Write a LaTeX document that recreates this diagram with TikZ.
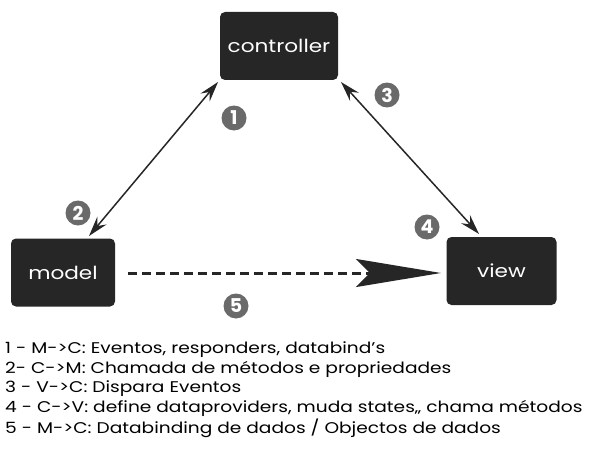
\documentclass[tikz,border=0pt]{standalone}
\usepackage{graphicx}
\usepackage{fontspec}
\setmainfont{Poppins}[Ligatures=NoCommon]
\usetikzlibrary{arrows.meta}
\definecolor{boxfill}{HTML}{262626}
\definecolor{badge}{HTML}{6A6A6A}
\newcommand{\widetext}[1]{\scalebox{1.2}[1]{#1}}
\newcommand{\apos}{{\char"0027}}
\begin{document}
\begin{tikzpicture}[x=1pt,y=-1pt,
  mvcbox/.style={draw=none,fill=boxfill,rounded corners=5pt,text=white,
    minimum width=110pt,minimum height=68pt,font=\fontsize{18}{18}\selectfont},
  badgenode/.style={circle,fill=badge,text=white,inner sep=0pt,minimum size=25pt,
    font=\fontsize{19}{19}\selectfont\bfseries},
  link/.style={line width=1.5pt,draw=boxfill,
    {Stealth[length=20pt,width=12pt,inset=7pt]}-{Stealth[length=20pt,width=12pt,inset=7pt]}},
  dataflow/.style={line width=3pt,draw=boxfill,dash pattern=on 9pt off 5pt,
    -{Stealth[length=85pt,width=28pt,inset=14pt]}},
  listline/.style={anchor=west,inner sep=0pt,font=\fontsize{15.5}{15.5}\selectfont}]
\useasboundingbox (0,0) rectangle (597,452);
\node[mvcbox,minimum width=118pt] (ctrl) at (279,46) {\widetext{controller}};
\node[mvcbox,minimum width=104pt] (model) at (63,272.5) {\widetext{model}};
\node[mvcbox,minimum width=110pt] (view) at (501.5,271) {\widetext{view}};
\coordinate (cm1) at (218,82);
\coordinate (cm2) at (89,236);
\coordinate (cv1) at (341,82);
\coordinate (cv2) at (479,234);
\coordinate (ms) at (128,273);
\coordinate (ve) at (441,273);
\draw[link] (cm1) -- (cm2);
\draw[link] (cv1) -- (cv2);
\draw[dataflow] (ms) -- (ve);
\node[badgenode] (b1) at (234,118) {1};
\node[badgenode] (b2) at (78,213) {2};
\node[badgenode] (b3) at (387,95) {3};
\node[badgenode] (b4) at (427,227) {4};
\node[badgenode] (b5) at (236,306) {5};
\node[listline] (l1) at (5,350) {\widetext{1 - M->C: Eventos, responders, databind\apos s}};
\node[listline] (l2) at (5,369.5) {\widetext{2- C->M: Chamada de métodos e propriedades}};
\node[listline] (l3) at (5,389) {\widetext{3 - V->C: Dispara Eventos}};
\node[listline] (l4) at (5,408.5) {\widetext{4 - C->V: define dataproviders, muda states,, chama métodos}};
\node[listline] (l5) at (5,428) {\widetext{5 - M->C: Databinding de dados / Objectos de dados}};
\end{tikzpicture}
\end{document}
